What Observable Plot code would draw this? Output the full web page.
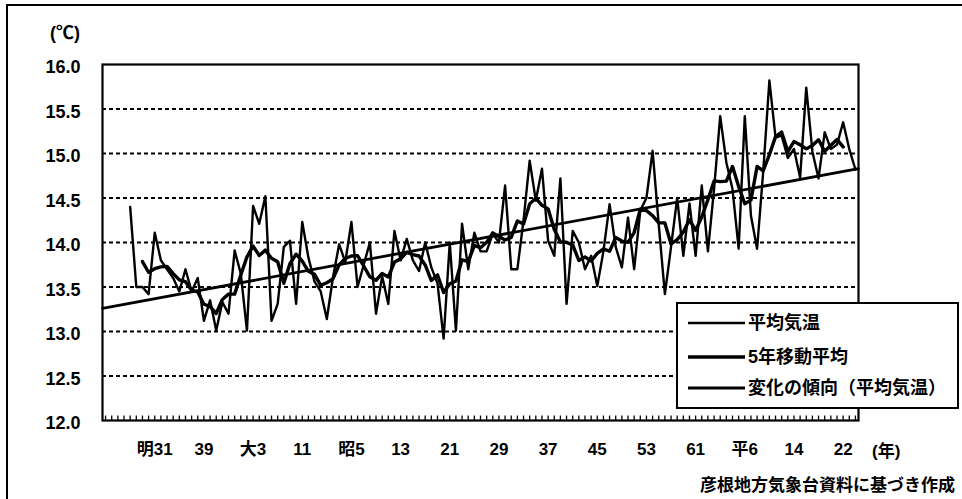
<!DOCTYPE html>
<html><head><meta charset="utf-8">
<script src="https://cdn.jsdelivr.net/npm/d3@7"></script>
<script src="https://cdn.jsdelivr.net/npm/@observablehq/plot@0.6"></script>
<style>body{margin:0;background:#fff;} svg{display:block}</style>
</head><body><div id="chart"></div>
<script>
// ---- data (annual mean temperature, Hikone) ----
const firstYear = 1894;
const temps = [
  14.40, 13.50, 13.50, 13.42, 14.11, 13.80, 13.70, 13.60, 13.45, 13.70, // 1894-1903
  13.45, 13.60, 13.12, 13.35, 13.01, 13.33, 13.20, 13.91, 13.65, 13.01, // 1904-1913
  14.41, 14.21, 14.52, 13.12, 13.31, 13.95, 14.02, 13.31, 14.23, 13.83, // 1914-1923
  13.56, 13.45, 13.14, 13.61, 13.98, 13.78, 14.23, 13.50, 13.75, 14.00, // 1924-1933
  13.20, 13.62, 13.31, 14.13, 13.80, 14.04, 13.80, 13.68, 14.00, 13.72, // 1934-1943
  13.54, 12.92, 14.00, 13.01, 14.21, 13.70, 14.11, 13.90, 13.90, 14.10, // 1944-1953
  14.00, 14.64, 13.70, 13.70, 14.25, 14.92, 14.47, 14.83, 14.02, 13.85, // 1954-1963
  14.72, 13.31, 14.13, 14.00, 13.70, 13.85, 13.51, 13.90, 14.43, 13.95, // 1964-1973
  13.72, 14.28, 13.70, 14.36, 14.50, 15.03, 14.20, 13.42, 13.95, 14.50, // 1974-1983
  13.85, 14.44, 13.85, 14.64, 13.90, 14.60, 15.42, 14.90, 14.60, 13.93, // 1984-1993
  15.42, 14.30, 13.93, 14.80, 15.82, 15.18, 15.20, 14.95, 15.05, 14.73, // 1994-2003
  15.74, 15.02, 14.72, 15.24, 15.05, 15.10, 15.35, 15.05, 14.82        // 2004-2012
];
const trendYears = [1889.5, 2012.5];
const trendValues = [13.26, 14.83];
const yTicks = [12.0, 12.5, 13.0, 13.5, 14.0, 14.5, 15.0, 15.5, 16.0];
const gridValues = [12.5, 13.0, 13.5, 14.0, 14.5, 15.0, 15.5];
const labelYears = [1898, 1906, 1914, 1922, 1930, 1938, 1946, 1954, 1962, 1970, 1978, 1986, 1994, 2002, 2010];
const labelTexts = ["明31", "39", "大3", "11", "昭5", "13", "21", "29", "37", "45", "53", "61", "平6", "14", "22"];
const minorYears = d3.range(1890, 2013);
const legendLabels = ["平均気温", "5年移動平均", "変化の傾向（平均気温）"];
const unitY = "(℃)";
const unitX = "(年)";
const sourceText = "彦根地方気象台資料に基づき作成";

const FONT = '"Liberation Sans", "Noto Sans CJK JP", sans-serif';

const data = temps.map((t, i) => ({year: firstYear + i, temp: t}));
const trend = trendYears.map((y, i) => ({year: y, temp: trendValues[i]}));

const plot = Plot.plot({
  width: 962, height: 499,
  marginLeft: 102, marginRight: 104, marginTop: 64, marginBottom: 79,
  x: {domain: [1889.5, 2012.5], axis: null},
  y: {domain: [12, 16], axis: null},
  style: {fontFamily: FONT, background: "white", color: "black", overflow: "visible"},
  marks: [
    Plot.ruleY(gridValues, {stroke: "black", strokeWidth: 2, strokeDasharray: "4,3"}),
    Plot.ruleX(minorYears, {y1: 12, y2: 12.05, stroke: "black", strokeWidth: 1.3}),
    Plot.line(data, {x: "year", y: "temp", stroke: "black", strokeWidth: 2.4}),
    Plot.line(data, Plot.windowY({k: 5, anchor: "middle", strict: true, reduce: "mean"},
      {x: "year", y: "temp", stroke: "black", strokeWidth: 3.4})),
    Plot.line(trend, {x: "year", y: "temp", stroke: "black", strokeWidth: 2.8}),
    Plot.frame({stroke: "black", strokeWidth: 2.2}),
    Plot.axisY({ticks: yTicks, tickSize: 0, tickPadding: 22, tickFormat: d => d.toFixed(1), label: null,
      fontSize: 18, fontWeight: "bold", dy: 3}),
    Plot.axisX({ticks: labelYears, tickSize: 0, tickPadding: 22, label: null,
      tickFormat: d => labelTexts[labelYears.indexOf(d)], fontSize: 17, fontWeight: "bold"})
  ]
});

const svg = d3.select(plot);
// outer border (top and left)
svg.append("path").attr("d", "M7,499V5H962").attr("fill", "none").attr("stroke", "black").attr("stroke-width", 2);

// legend
const lg = svg.append("g").attr("font-family", FONT).attr("font-weight", "bold").attr("text-anchor", "start");
lg.append("rect").attr("x", 677).attr("y", 303).attr("width", 281).attr("height", 105)
  .attr("fill", "white").attr("stroke", "black").attr("stroke-width", 2);
const rowY = [323, 357, 388];
const rowW = [2.4, 3.4, 2.8];
legendLabels.forEach((t, i) => {
  lg.append("line").attr("x1", 688).attr("x2", 745).attr("y1", rowY[i]).attr("y2", rowY[i])
    .attr("stroke", "black").attr("stroke-width", rowW[i]);
  lg.append("text").attr("x", 748).attr("y", rowY[i]).attr("dy", "0.35em")
    .attr("text-anchor", "start").attr("font-size", 18).text(t);
});

// unit labels and source
const tg = svg.append("g").attr("font-family", FONT).attr("font-weight", "bold").attr("fill", "black");
tg.append("text").attr("x", 80).attr("y", 33).attr("dy", "0.35em").attr("text-anchor", "end").attr("font-size", 18).text(unitY);
tg.append("text").attr("x", 872).attr("y", 451).attr("dy", "0.35em").attr("text-anchor", "start").attr("font-size", 17).text(unitX);
tg.append("text").attr("x", 955).attr("y", 485).attr("dy", "0.35em").attr("text-anchor", "end").attr("font-size", 17).text(sourceText);

document.getElementById("chart").appendChild(plot);
</script>
</body></html>
